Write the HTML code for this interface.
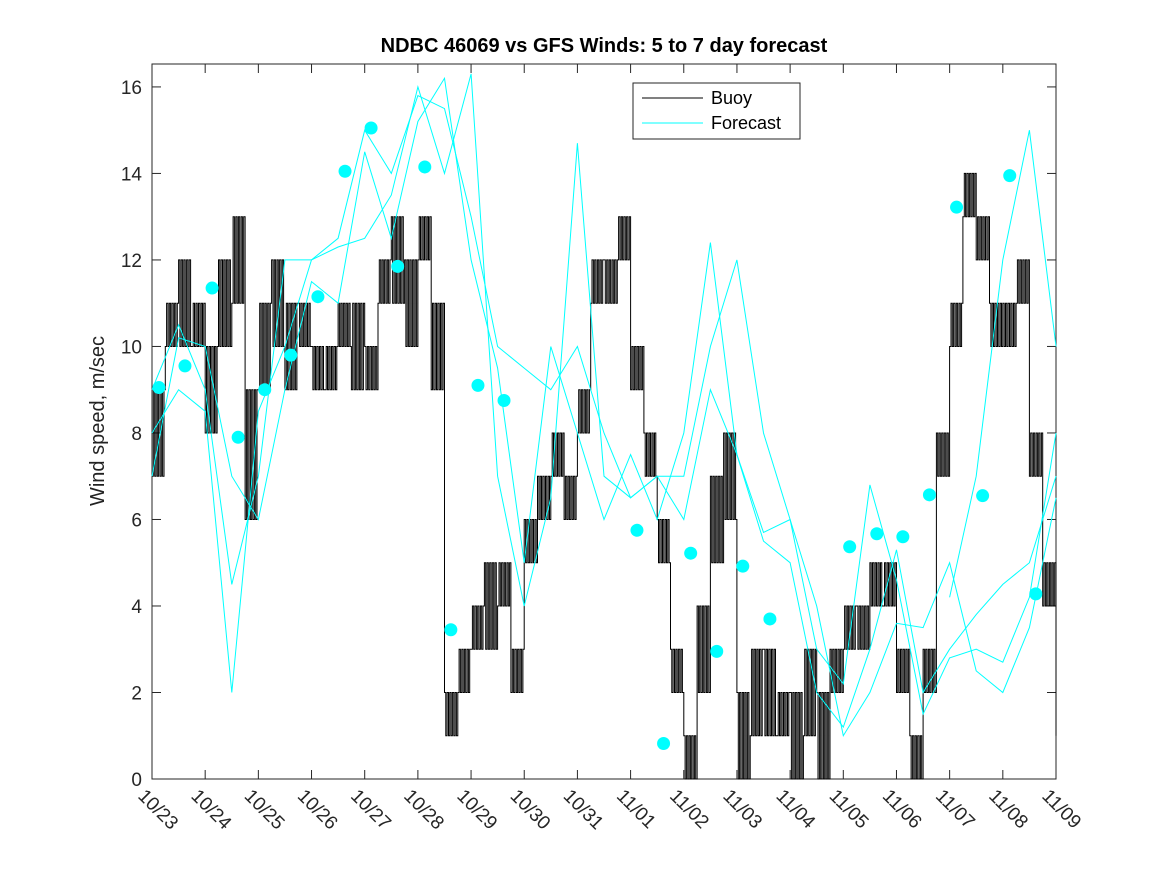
<!DOCTYPE html>
<html><head><meta charset="utf-8"><style>
body{margin:0;background:#fff;font-family:"Liberation Sans","DejaVu Sans",sans-serif}
</style></head><body>
<svg id="chart" width="1167" height="875" viewBox="0 0 1167 875" xmlns="http://www.w3.org/2000/svg">
<rect width="1167" height="875" fill="#fff"/>
<text x="604" y="52" text-anchor="middle" font-size="20" font-weight="bold" fill="#000">NDBC 46069 vs GFS Winds: 5 to 7 day forecast</text>
<text transform="translate(104,421) rotate(-90)" text-anchor="middle" font-size="20" fill="#222">Wind speed, m/sec</text>
<g id="plot"></g>
</svg>
<script>
const dateLabels=["10/23","10/24","10/25","10/26","10/27","10/28","10/29","10/30","10/31","11/01","11/02","11/03","11/04","11/05","11/06","11/07","11/08","11/09"];
const yTicks=[0,2,4,6,8,10,12,14,16];
// buoy, 6-hourly from 10/23 00Z
const buoy=[7,10,12,10, 8,12,11,6, 9,12,9,11, 10,9,11,9, 10,11,13,12, 12,9,2,2, 3,5,4,2, 6,7,7,6, 8,11,12,12, 9,8,6,3, 1,4,7,8, 2,1,3,1, 2,1,2,3, 3,4,5,4, 2,1,3,8, 10,13,12,11, 11,11,7,4, 2];
// buoy high-frequency excursions (alternate values), same index
const buoyAlt=[9,11,10,11, 10,10,13,9, 11,10,11,10, 9,10,10,11, 9,12,11,10, 13,11,1,3, 4,3,5,3, 5,6,8,7, 9,12,11,13, 10,7,5,2, 0,2,5,6, 0,3,1,2, 0,3,0,2, 4,3,4,5, 3,0,2,7, 11,14,13,10, 10,12,8,5, 1];
// forecasts, 12-hourly
const fc1=[9,10.5,9,4.5,7,12,12,12.5,15,14,15.8,15.5,13,10,9.5,9,10,8,6.5,7,7,10,12,8,6,4,1,2,3.6,3.5,5,2.5,2,3.5,6.5];
const fc2=[7,10.2,10,7,6,9,11.5,11,14.5,12.5,15.2,16.2,12,9.5,5,10,8,6,7.5,6,8,12.4,7.5,5.5,5,2,1.2,3,5.3,2,3,3.8,4.5,5,7];
const fc3=[8,9,8.5,2,8.5,10,12,12.3,12.5,13.5,16,14,16.3,7,4,6.5,14.7,7,6.5,7,6,9,7.5,5.7,6,3,2.2,6.8,4.6,1.5,2.8,3,2.7,4.2,8];
const fc4=[null,null,null,null,null,null,null,null,null,null,null,null,null,null,null,null,null,null,null,null,null,null,null,null,null,null,null,null,null,null,4.2,7,12,15,10];
const dotDay=[0.13,0.62,1.13,1.62,2.12,2.61,3.12,3.63,4.12,4.62,5.13,5.62,6.13,6.62,9.12,9.62,10.13,10.62,11.11,11.62,13.12,13.63,14.12,14.62,15.13,15.62,16.13,16.62];
const dotVal=[9.05,9.55,11.35,7.9,9.0,9.8,11.15,14.05,15.05,11.85,14.15,3.45,9.1,8.75,5.75,0.82,5.22,2.95,4.92,3.7,5.37,5.67,5.6,6.57,13.22,6.55,13.95,4.28];

const L=152,R=1056,T=64,B=779,ymax=16.53,ndays=17;
const X=d=>L+(R-L)*d/ndays, Y=v=>B-(B-T)*v/ymax;
const NS="http://www.w3.org/2000/svg";
const g=document.getElementById('plot');
function mk(t,a){const e=document.createElementNS(NS,t);for(const k in a)e.setAttribute(k,a[k]);g.appendChild(e);return e;}
let e=mk('rect',{x:L,y:T,width:R-L,height:B-T,fill:'#fff',stroke:'#262626','stroke-width':1});

yTicks.forEach(v=>{
 mk('line',{x1:L,x2:L+9,y1:Y(v),y2:Y(v),stroke:'#262626'});mk('line',{x1:R,x2:R-9,y1:Y(v),y2:Y(v),stroke:'#262626'});
 let tx=mk('text',{x:L-10,y:Y(v)+7,'text-anchor':'end','font-size':19,fill:'#262626'});tx.textContent=v;
 
});
dateLabels.forEach((s,i)=>{
 const x=X(i);mk('line',{x1:x,x2:x,y1:B,y2:B-9,stroke:'#262626'});mk('line',{x1:x,x2:x,y1:T,y2:T+9,stroke:'#262626'});
 let tx=mk('text',{x:0,y:0,transform:`translate(${x-15},${B+18}) rotate(45)`,'font-size':19,fill:'#262626'});tx.textContent=s;
 
});
let d='';
for(let i=0;i<buoy.length;i++){
 const x0=X(i*0.25),x1=X(Math.min(i*0.25+0.25,ndays));
 const steps=10;
 for(let k=0;k<steps;k++){
  const v=(k%2==0)?buoy[i]:buoyAlt[i];
  const xa=x0+(x1-x0)*k/steps,xb=x0+(x1-x0)*(k+1)/steps;
  d+=(d?'L':'M')+xa.toFixed(1)+','+Y(v).toFixed(1)+'L'+xb.toFixed(1)+','+Y(v).toFixed(1);
 }
}
e=mk('path',{d:d,fill:'none',stroke:'#000','stroke-width':1});

[fc1,fc2,fc3,fc4].forEach((arr,j)=>{
 let p='';arr.forEach((v,i)=>{if(v===null)return;p+=(p?'L':'M')+X(Math.min(i*0.5,ndays)).toFixed(1)+','+Y(v).toFixed(1);});
 let f=mk('path',{d:p,fill:'none',stroke:'#00ffff','stroke-width':1});
 
});
dotDay.forEach((dd,i)=>{
 let c=mk('circle',{cx:X(dd),cy:Y(dotVal[i]),r:6.5,fill:'#00ffff'});
 
});
let lg=mk('rect',{x:633,y:83,width:167,height:56,fill:'#fff',stroke:'#262626'});

mk('line',{x1:642,x2:703,y1:98,y2:98,stroke:'#000'});
mk('line',{x1:642,x2:703,y1:123,y2:123,stroke:'#00ffff'});
let l1=mk('text',{x:711,y:104,'font-size':18,fill:'#000'});l1.textContent='Buoy';

let l2=mk('text',{x:711,y:129,'font-size':18,fill:'#000'});l2.textContent='Forecast';

</script>
</body></html>
